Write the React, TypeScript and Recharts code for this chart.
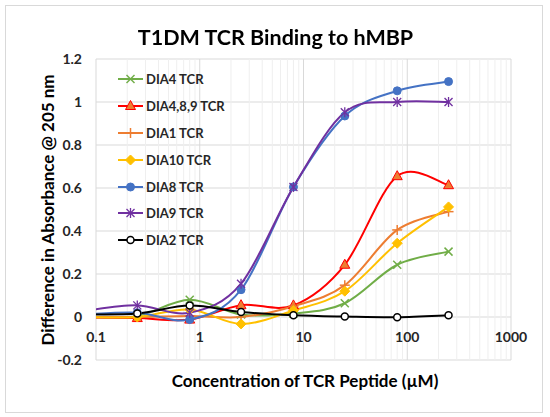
import { CartesianGrid, Line, LineChart, ReferenceLine, XAxis, YAxis } from "recharts";

// peptide concentration (µM); the first point sits left of the axis and is clipped
const concentrations = [0.08, 0.25, 0.8, 2.5, 8, 25, 80, 250];

const dia4 = [0.0, 0.005, 0.08, 0.012, 0.016, 0.064, 0.243, 0.304];
const dia489 = [-0.002, -0.005, -0.012, 0.055, 0.054, 0.243, 0.655, 0.613];
const dia1 = [0.0, 0.0, 0.005, 0.0, 0.05, 0.148, 0.405, 0.49];
const dia10 = [0.0, 0.0, 0.035, -0.032, 0.03, 0.12, 0.343, 0.512];
const dia8 = [0.012, 0.02, -0.012, 0.127, 0.605, 0.935, 1.052, 1.095];
const dia9 = [0.03, 0.054, 0.02, 0.155, 0.605, 0.952, 1.0, 1.0];
const dia2 = [0.012, 0.016, 0.053, 0.023, 0.008, 0.002, -0.001, 0.008];

const seriesNames = ["DIA4 TCR", "DIA4,8,9 TCR", "DIA1 TCR", "DIA10 TCR", "DIA8 TCR", "DIA9 TCR", "DIA2 TCR"];
const seriesKeys = ["dia4", "dia489", "dia1", "dia10", "dia8", "dia9", "dia2"];
const seriesValues = [dia4, dia489, dia1, dia10, dia8, dia9, dia2];

const xTicks = [0.1, 1, 10, 100, 1000];
const xMinorTicks = [
  0.2, 0.3, 0.4, 0.5, 0.6, 0.7, 0.8, 0.9,
  2, 3, 4, 5, 6, 7, 8, 9,
  20, 30, 40, 50, 60, 70, 80, 90,
  200, 300, 400, 500, 600, 700, 800, 900,
];
const yTicks = [-0.2, 0, 0.2, 0.4, 0.6, 0.8, 1, 1.2];

const data = concentrations.map((conc, i) => {
  const row: Record<string, number> = { conc };
  seriesKeys.forEach((k, j) => (row[k] = seriesValues[j][i]));
  return row;
});

const seriesStyle = [
  { stroke: "#70AD47", fill: "#70AD47", marker: "x" },
  { stroke: "#FF0000", fill: "#ED7D31", marker: "triangle" },
  { stroke: "#ED7D31", fill: "#ED7D31", marker: "plus" },
  { stroke: "#FFC000", fill: "#FFC000", marker: "diamond" },
  { stroke: "#4472C4", fill: "#4472C4", marker: "circle" },
  { stroke: "#7030A0", fill: "#7030A0", marker: "star" },
  { stroke: "#000000", fill: "none", marker: "ring" },
];

const FONT = "Lato, 'Open Sans', sans-serif";
const TEXT = "#262626";

// Excel-style smoothed line (cardinal spline, tension 0)
function excelCurve(context: any) {
  let pts: number[][] = [];
  return {
    areaStart() {},
    areaEnd() {},
    lineStart() {
      pts = [];
    },
    point(x: number, y: number) {
      pts.push([+x, +y]);
    },
    lineEnd() {
      const n = pts.length;
      if (!n) return;
      context.moveTo(pts[0][0], pts[0][1]);
      for (let i = 0; i < n - 1; i++) {
        const p0 = pts[Math.max(i - 1, 0)];
        const p1 = pts[i];
        const p2 = pts[i + 1];
        const p3 = pts[Math.min(i + 2, n - 1)];
        context.bezierCurveTo(
          p1[0] + (p2[0] - p0[0]) / 6,
          p1[1] + (p2[1] - p0[1]) / 6,
          p2[0] - (p3[0] - p1[0]) / 6,
          p2[1] - (p3[1] - p1[1]) / 6,
          p2[0],
          p2[1]
        );
      }
    },
  };
}

function Marker({ kind, cx, cy, stroke, fill }: { kind: string; cx: number; cy: number; stroke: string; fill: string }) {
  switch (kind) {
    case "x":
      return (
        <g stroke={stroke} strokeWidth={1.5}>
          <line x1={cx - 4} y1={cy - 4} x2={cx + 4} y2={cy + 4} />
          <line x1={cx - 4} y1={cy + 4} x2={cx + 4} y2={cy - 4} />
        </g>
      );
    case "triangle":
      return <polygon points={`${cx},${cy - 5.5} ${cx + 5},${cy + 3.5} ${cx - 5},${cy + 3.5}`} fill={fill} stroke={stroke} strokeWidth={1} />;
    case "plus":
      return (
        <g stroke={stroke} strokeWidth={1.5}>
          <line x1={cx - 5} y1={cy} x2={cx + 5} y2={cy} />
          <line x1={cx} y1={cy - 5} x2={cx} y2={cy + 5} />
        </g>
      );
    case "diamond":
      return <polygon points={`${cx},${cy - 5} ${cx + 5},${cy} ${cx},${cy + 5} ${cx - 5},${cy}`} fill={fill} stroke={stroke} />;
    case "circle":
      return <circle cx={cx} cy={cy} r={4} fill={fill} stroke={stroke} />;
    case "star":
      return (
        <g stroke={stroke} strokeWidth={1.3}>
          <line x1={cx - 4} y1={cy - 4} x2={cx + 4} y2={cy + 4} />
          <line x1={cx - 4} y1={cy + 4} x2={cx + 4} y2={cy - 4} />
          <line x1={cx} y1={cy - 5} x2={cx} y2={cy + 5} />
        </g>
      );
    default:
      return <circle cx={cx} cy={cy} r={3.5} fill="#fff" stroke={stroke} strokeWidth={1.5} />;
  }
}

function makeDot(j: number) {
  const st = seriesStyle[j];
  return (p: any) => {
    if (p.payload.conc < 0.1 || p.cx == null) return <g key={`d-${j}-${p.index}`} />;
    return (
      <g key={`d-${j}-${p.index}`}>
        <Marker kind={st.marker} cx={p.cx} cy={p.cy} stroke={st.stroke} fill={st.fill} />
      </g>
    );
  };
}

function LegendBox() {
  return (
    <div style={{ position: "absolute", left: 118, top: 65.5, fontFamily: FONT, fontWeight: 700, fontSize: 13, color: TEXT }}>
      {seriesNames.map((name, j) => (
        <div key={name} style={{ display: "flex", alignItems: "center", height: 26.9 }}>
          <svg width={28} height={14} style={{ overflow: "visible" }}>
            <line x1={0} y1={7} x2={25} y2={7} stroke={seriesStyle[j].stroke} strokeWidth={2} />
            <Marker kind={seriesStyle[j].marker} cx={12.5} cy={7} stroke={seriesStyle[j].stroke} fill={seriesStyle[j].fill} />
          </svg>
          <span>{name}</span>
        </div>
      ))}
    </div>
  );
}

const XTick = ({ x, y, payload }: any) => (
  <text x={x} y={y - 24} textAnchor="middle" dominantBaseline="central" fill={TEXT} fontSize={14} fontWeight={700} fontFamily={FONT}>
    {payload.value}
  </text>
);

export default function App() {
  return (
    <div style={{ position: "fixed", left: 0, top: 0, width: 550, height: 417, background: "#fff" }}>
      <div style={{ position: "absolute", left: 5, top: 5, width: 536, height: 406, border: "1px solid #d9d9d9" }} />
      <LineChart width={550} height={417} data={data} margin={{ top: 59, right: 39, bottom: 37, left: 0 }} style={{ position: "absolute", left: 0, top: 0 }}>
        <CartesianGrid stroke="#d9d9d9" strokeWidth={1} />
        {xMinorTicks.map((v) => (
          <ReferenceLine key={v} x={v} stroke="#efefef" strokeWidth={1} />
        ))}
        <XAxis
          dataKey="conc"
          type="number"
          scale="log"
          domain={[0.1, 1000]}
          allowDataOverflow
          ticks={xTicks}
          interval={0}
          axisLine={false}
          tickLine={false}
          tickSize={0}
          tickMargin={0}
          height={20}
          tick={<XTick />}
        />
        <YAxis
          type="number"
          domain={[-0.2, 1.2]}
          ticks={yTicks}
          interval={0}
          allowDataOverflow
          axisLine={false}
          tickLine={false}
          tickSize={0}
          tickMargin={14}
          width={96}
          tick={{ fill: TEXT, fontSize: 14, fontWeight: 700, fontFamily: FONT }}
        />
        {seriesKeys.map((k, j) => (
          <Line
            key={k}
            dataKey={k}
            name={seriesNames[j]}
            type={excelCurve as any}
            stroke={seriesStyle[j].stroke}
            strokeWidth={2}
            dot={makeDot(j)}
            activeDot={false}
            isAnimationActive={false}
          />
        ))}
      </LineChart>
      <LegendBox />
      <div style={{ position: "absolute", left: 0, top: 24, width: 551, textAlign: "center", fontFamily: FONT, fontWeight: 700, fontSize: 21.5, lineHeight: "26px", color: "#000" }}>
        T1DM TCR Binding to hMBP
      </div>
      <div
        style={{
          position: "absolute",
          left: 47,
          top: 210,
          transform: "translate(-50%, -50%) rotate(-90deg)",
          whiteSpace: "nowrap",
          fontFamily: FONT,
          fontWeight: 700,
          fontSize: 17,
          color: "#000",
        }}
      >
        Difference in Absorbance @ 205 nm
      </div>
      <div
        style={{
          position: "absolute",
          left: 305,
          top: 380,
          transform: "translate(-50%, -50%)",
          whiteSpace: "nowrap",
          fontFamily: FONT,
          fontWeight: 700,
          fontSize: 17,
          color: "#000",
        }}
      >
        Concentration of TCR Peptide (µM)
      </div>
    </div>
  );
}
